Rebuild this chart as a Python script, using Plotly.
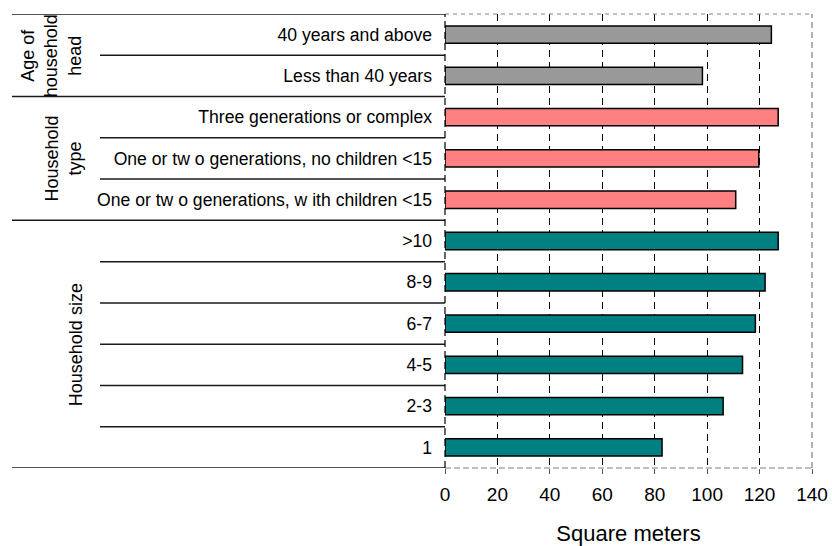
import plotly.graph_objects as go

# Data (bottom to top)
categories = ["1", "2-3", "4-5", "6-7", "8-9", ">10",
              "One or tw o generations, w ith children <15",
              "One or tw o generations, no children <15",
              "Three generations or complex",
              "Less than 40 years", "40 years and above"]
values = [82.8, 106.1, 113.5, 118.4, 122.1, 127.1,
          110.9, 119.7, 127.1,
          98.2, 124.5]
groups = ["size"] * 6 + ["type"] * 3 + ["age"] * 2
group_labels = {"age": "Age of<br>household<br>head",
                "type": "Household<br>type",
                "size": "Household size"}
group_colors = {"age": "#999999", "type": "#FF8080", "size": "#008080"}
x_ticks = [0, 20, 40, 60, 80, 100, 120, 140]

FONT = "Arial, Liberation Sans, sans-serif"
W, H = 832, 546
L, R, T, B = 445, 20, 14, 78
pw = W - L - R

def px2paper(px):
    return (px - L) / pw

fig = go.Figure()
fig.add_trace(go.Bar(
    x=values, y=categories, orientation="h",
    width=0.42,
    marker=dict(color=[group_colors[g] for g in groups],
                line=dict(color="black", width=1.5)),
    showlegend=False, hoverinfo="x+y",
))

shapes = []
n = len(categories)
for i in range(n + 1):
    yb = i - 0.5
    is_group = (i == 0 or i == n or groups[i] != groups[i - 1])
    x0 = px2paper(12) if is_group else px2paper(100)
    shapes.append(dict(type="line", xref="paper", yref="y",
                       x0=x0, x1=0, y0=yb, y1=yb,
                       line=dict(color="#1a1a1a", width=1.5)))
# plot border
shapes.append(dict(type="line", xref="paper", yref="paper", x0=0, x1=1, y0=1, y1=1,
                   line=dict(color="#808080", width=1, dash="4px,4px")))
shapes.append(dict(type="line", xref="paper", yref="paper", x0=1, x1=1, y0=0, y1=1,
                   line=dict(color="#808080", width=1.2, dash="6px,4px")))
shapes.append(dict(type="line", xref="paper", yref="paper", x0=0, x1=1, y0=0, y1=0,
                   line=dict(color="#808080", width=1.2, dash="6px,3px")))
shapes.append(dict(type="line", xref="paper", yref="paper", x0=0, x1=0, y0=0, y1=1,
                   line=dict(color="#000000", width=1.2, dash="7px,4px")))

annotations = []
centers = {}
for g in ["age", "type", "size"]:
    ys = [i for i, gg in enumerate(groups) if gg == g]
    centers[g] = (min(ys) + max(ys)) / 2
ann_x = {"age": 51, "type": 63, "size": 76}
for g in ["age", "type", "size"]:
    annotations.append(dict(text=group_labels[g], xref="paper", yref="y",
                            x=px2paper(ann_x[g]), y=centers[g], textangle=-90,
                            showarrow=False, xanchor="center", yanchor="middle",
                            font=dict(family=FONT, size=18, color="black")))

fig.update_layout(
    width=W, height=H,
    margin=dict(l=L, r=R, t=T, b=B, autoexpand=False),
    paper_bgcolor="white", plot_bgcolor="white",
    shapes=shapes, annotations=annotations,
    font=dict(family=FONT, color="black"),
    xaxis=dict(range=[0, 140], tickvals=x_ticks, showgrid=True,
               gridcolor="black", gridwidth=1, griddash="7px,5px",
               zeroline=False, showline=False,
               ticks="outside", ticklen=5, tickcolor="#555",
               ticklabelstandoff=4,
               tickfont=dict(family=FONT, size=19, color="black"),
               title=dict(text="Square meters", standoff=23,
                          font=dict(family=FONT, size=22, color="black")),
               automargin=False),
    yaxis=dict(categoryorder="array", categoryarray=categories,
               range=[-0.5, n - 0.5], showgrid=False, zeroline=False,
               showline=False, ticks="", ticklabelstandoff=12,
               tickfont=dict(family=FONT, size=17.6, color="black"),
               automargin=False),
)

fig.write_html("out.html")
